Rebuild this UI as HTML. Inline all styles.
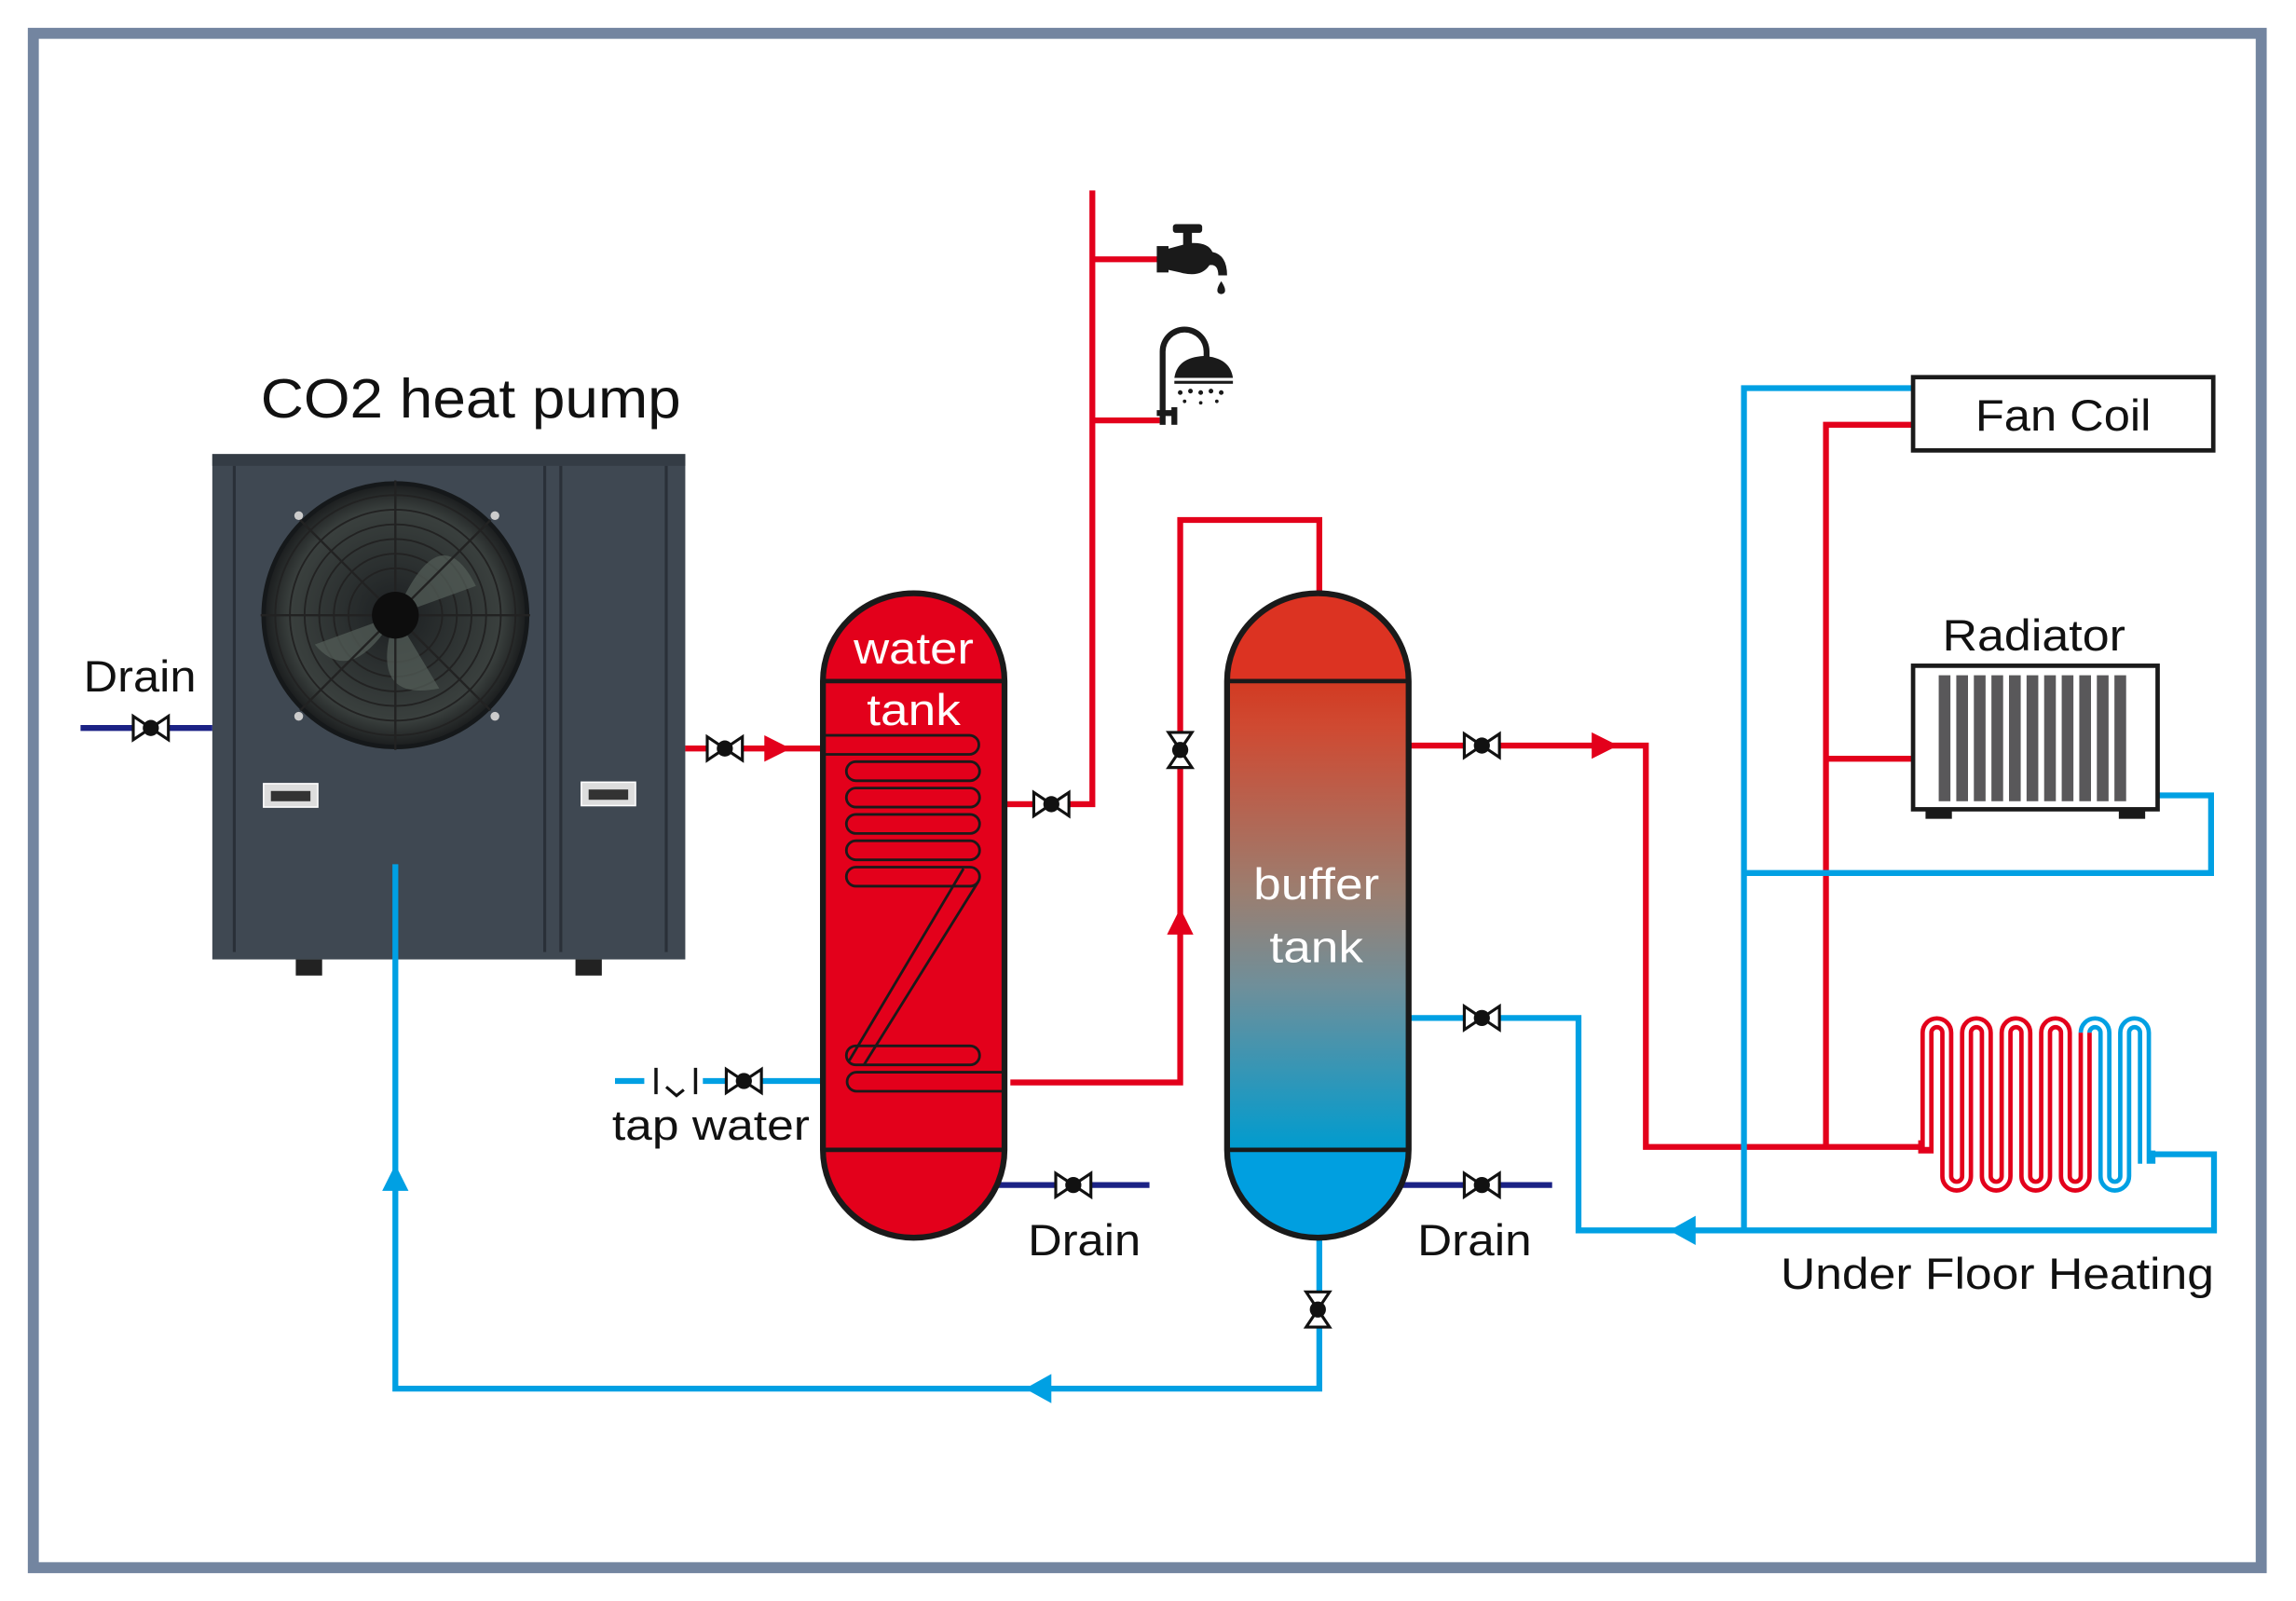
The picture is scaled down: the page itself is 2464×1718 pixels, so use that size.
<!DOCTYPE html>
<html><head><meta charset="utf-8"><style>
html,body{margin:0;padding:0;background:#fff;}
svg{display:block;}
text{font-family:"Liberation Sans",sans-serif;}
</style></head><body>
<svg width="2464" height="1718" viewBox="0 0 1568 1093" preserveAspectRatio="none" xmlns="http://www.w3.org/2000/svg">
<defs>
<g id="vh"><path d="M-12,-8 L-12,8 L0,0 Z M12,-8 L12,8 L0,0 Z" fill="#fff" stroke="#111" stroke-width="2"/><circle r="5.5" fill="#111"/></g>
<g id="vv"><path d="M-8,-12 L8,-12 L0,0 Z M-8,12 L8,12 L0,0 Z" fill="#fff" stroke="#111" stroke-width="2"/><circle r="5.5" fill="#111"/></g>
<linearGradient id="bg" x1="0" y1="0" x2="0" y2="1">
<stop offset="0" stop-color="#d23a22"/><stop offset="0.1" stop-color="#cf4a32"/><stop offset="0.45" stop-color="#9b7e70"/><stop offset="0.65" stop-color="#6f8f9a"/><stop offset="1" stop-color="#009ccf"/></linearGradient>
<radialGradient id="fan" cx="0.5" cy="0.5" r="0.5"><stop offset="0" stop-color="#1c1f21"/><stop offset="0.8" stop-color="#3a403e"/><stop offset="1" stop-color="#1a1c1d"/></radialGradient>
</defs>
<rect x="22.75" y="22.75" width="1521.5" height="1047.5" fill="#fff" stroke="#7385a0" stroke-width="7.5"/>

<!-- heat pump -->
<text x="178" y="285" font-size="38" fill="#111" textLength="287" lengthAdjust="spacingAndGlyphs">CO2 heat pump</text>
<rect x="145" y="310" width="323" height="345" fill="#3f4852"/>
<rect x="145" y="310" width="323" height="8" fill="#343c45"/>
<line x1="160" y1="318" x2="160" y2="650" stroke="#2a3038" stroke-width="2"/>
<line x1="372" y1="318" x2="372" y2="650" stroke="#2a3038" stroke-width="2"/>
<line x1="383" y1="318" x2="383" y2="650" stroke="#2a3038" stroke-width="2"/>
<line x1="455" y1="318" x2="455" y2="650" stroke="#2a3038" stroke-width="2"/>
<circle cx="270" cy="420" r="90" fill="url(#fan)" stroke="#15181a" stroke-width="3"/>
<g fill="none" stroke="#222" stroke-width="1.2">
<circle cx="270" cy="420" r="82"/><circle cx="270" cy="420" r="72"/><circle cx="270" cy="420" r="62"/><circle cx="270" cy="420" r="52"/><circle cx="270" cy="420" r="42"/><circle cx="270" cy="420" r="32"/>
</g>
<path d="M270,420 Q300,350 325,400 Z M270,420 Q240,470 215,440 Z M270,420 Q250,480 300,470 Z" fill="#55605a" opacity="0.7"/>
<line x1="205" y1="355" x2="335" y2="485" stroke="#222" stroke-width="1.5"/>
<line x1="335" y1="355" x2="205" y2="485" stroke="#222" stroke-width="1.5"/>
<line x1="178" y1="420" x2="362" y2="420" stroke="#222" stroke-width="1.5"/>
<line x1="270" y1="328" x2="270" y2="512" stroke="#222" stroke-width="1.5"/>
<circle cx="270" cy="420" r="16" fill="#0d0d0d"/>
<circle cx="204" cy="352" r="3" fill="#ccc"/><circle cx="338" cy="352" r="3" fill="#ccc"/>
<circle cx="204" cy="489" r="3" fill="#ccc"/><circle cx="338" cy="489" r="3" fill="#ccc"/>
<rect x="180" y="535" width="37" height="16" fill="#ddd" stroke="#fff" stroke-width="1"/><rect x="185" y="540" width="27" height="7" fill="#333"/>
<rect x="397" y="534" width="37" height="16" fill="#ddd" stroke="#fff" stroke-width="1"/><rect x="402" y="539" width="27" height="7" fill="#333"/>
<rect x="202" y="655" width="18" height="11" fill="#222"/><rect x="393" y="655" width="18" height="11" fill="#222"/>

<!-- left drain -->
<text x="57" y="472" font-size="30" fill="#111" textLength="77" lengthAdjust="spacingAndGlyphs">Drain</text>
<line x1="55" y1="497" x2="145" y2="497" stroke="#1b2285" stroke-width="4"/>
<use href="#vh" x="103" y="497"/>

<!-- pipes red -->
<g fill="none" stroke="#e3001b" stroke-width="4">
<line x1="468" y1="511" x2="562" y2="511"/>
<polyline points="690,739 806,739 806,355 901,355 901,405"/>
<polyline points="686,549 746,549 746,130"/>
<line x1="746" y1="177" x2="792" y2="177"/>
<line x1="746" y1="287" x2="792" y2="287"/>
<polyline points="962,509 1124,509 1124,783 1312,783"/>
<polyline points="1247,783 1247,290 1306,290"/>
<line x1="1247" y1="518" x2="1306" y2="518"/>
</g>
<path d="M522,502 L540,511 L522,520 Z" fill="#e3001b"/>
<path d="M1087,500 L1105,509 L1087,518 Z" fill="#e3001b"/>
<path d="M797,638 L806,620 L815,638 Z" fill="#e3001b"/>
<use href="#vh" x="495" y="511"/>
<use href="#vh" x="718" y="549"/>
<use href="#vv" x="806" y="512"/>
<use href="#vh" x="1012" y="509"/>

<!-- pipes blue -->
<g fill="none" stroke="#00a0e3" stroke-width="4">
<line x1="420" y1="738" x2="562" y2="738"/>
<polyline points="962,695 1078,695 1078,840 1512,840 1512,788 1470,788"/>
<polyline points="1191,840 1191,265 1306,265"/>
<polyline points="1191,596 1510,596 1510,543 1474,543"/>
<polyline points="901,845 901,948 270,948 270,590"/>
</g>
<path d="M1158,830 L1140,840 L1158,850 Z" fill="#00a0e3"/>
<path d="M718,938 L700,948 L718,958 Z" fill="#00a0e3"/>
<path d="M261,813 L270,795 L279,813 Z" fill="#00a0e3"/>
<use href="#vh" x="1012" y="695"/>
<use href="#vv" x="900" y="894"/>
<!-- tap water -->
<rect x="440" y="734" width="40" height="8" fill="#fff"/>
<line x1="448" y1="729" x2="448" y2="747" stroke="#111" stroke-width="2.2"/>
<line x1="475" y1="729" x2="475" y2="747" stroke="#111" stroke-width="2.2"/>
<polyline points="455,742 462,748 467,744" fill="none" stroke="#111" stroke-width="2"/>
<use href="#vh" x="508" y="738"/>
<text x="418" y="778" font-size="29" fill="#111" textLength="135" lengthAdjust="spacingAndGlyphs">tap water</text>

<!-- drains navy -->
<line x1="680" y1="809" x2="785" y2="809" stroke="#1b2285" stroke-width="4"/>
<use href="#vh" x="733" y="809"/>
<text x="702" y="857" font-size="30" fill="#111" textLength="77" lengthAdjust="spacingAndGlyphs">Drain</text>
<line x1="955" y1="809" x2="1060" y2="809" stroke="#1b2285" stroke-width="4"/>
<use href="#vh" x="1012" y="809"/>
<text x="968" y="857" font-size="30" fill="#111" textLength="78" lengthAdjust="spacingAndGlyphs">Drain</text>

<!-- water tank -->
<path d="M562,465 A62,60 0 0 1 686,465 L686,785 A62,60 0 0 1 562,785 Z" fill="#e3001b" stroke="#1a1a1a" stroke-width="4"/>
<line x1="562" y1="465" x2="686" y2="465" stroke="#1a1a1a" stroke-width="3"/>
<line x1="562" y1="785" x2="686" y2="785" stroke="#1a1a1a" stroke-width="3"/>
<g fill="none" stroke="#1a1a1a" stroke-width="1.8">
<path d="M563,502 L662,502 A6.5,6.5 0 0 1 662,515 L563,515"/>
<rect x="578" y="520" width="91" height="13" rx="6.5"/>
<rect x="578" y="538" width="91" height="13" rx="6.5"/>
<rect x="578" y="556" width="91" height="13" rx="6.5"/>
<rect x="578" y="574" width="91" height="13" rx="6.5"/>
<rect x="578" y="592" width="91" height="13" rx="6.5"/>
<rect x="578" y="714" width="91" height="13" rx="6.5"/>
<path d="M686,732 L585,732 A6.5,6.5 0 0 0 585,745 L686,745"/>
<line x1="658" y1="593" x2="580" y2="724"/>
<line x1="668" y1="602" x2="590" y2="727"/>
</g>
<text x="624" y="453" font-size="30" fill="#fff" text-anchor="middle" textLength="82" lengthAdjust="spacingAndGlyphs">water</text>
<text x="624" y="495" font-size="30" fill="#fff" text-anchor="middle" textLength="64" lengthAdjust="spacingAndGlyphs">tank</text>

<!-- buffer tank -->
<path d="M838,465 A62,60 0 0 1 962,465 Z" fill="#dc3322"/>
<rect x="838" y="465" width="124" height="320" fill="url(#bg)"/>
<path d="M838,785 A62,60 0 0 0 962,785 Z" fill="#009fe0"/>
<path d="M838,465 A62,60 0 0 1 962,465 L962,785 A62,60 0 0 1 838,785 Z" fill="none" stroke="#1a1a1a" stroke-width="4"/>
<line x1="838" y1="465" x2="962" y2="465" stroke="#1a1a1a" stroke-width="3"/>
<line x1="838" y1="785" x2="962" y2="785" stroke="#1a1a1a" stroke-width="3"/>
<text x="899" y="614" font-size="30" fill="#fff" text-anchor="middle" textLength="86" lengthAdjust="spacingAndGlyphs">buffer</text>
<text x="899" y="657" font-size="30" fill="#fff" text-anchor="middle" textLength="64" lengthAdjust="spacingAndGlyphs">tank</text>

<!-- faucet -->
<g fill="#1a1a1a">
<rect x="790" y="168" width="8" height="18"/>
<path d="M797,170 L812,166 Q825,165 828,172 Q838,174 838,188 L832,188 Q832,180 826,181 Q820,190 806,186 L797,184 Z"/>
<rect x="808" y="157" width="6" height="10"/><rect x="801" y="153" width="20" height="6" rx="2"/>
<path d="M834,192 Q830,198 832,200 A3,3 0 0 0 836,200 Q838,198 834,192 Z"/>
<path d="M792,290 L792,240 A17,17 0 0 1 826,240 L826,244 L822,244 L822,240 A13,13 0 0 0 796,240 L796,290 Z"/>
<rect x="790" y="280" width="12" height="4"/><rect x="800" y="278" width="4" height="12"/>
<path d="M802,258 Q804,244 822,243 Q840,244 842,258 Z"/>
<rect x="802" y="260" width="40" height="2"/>
<circle cx="806" cy="268" r="1.6"/><circle cx="813" cy="267" r="1.6"/><circle cx="820" cy="268" r="1.6"/><circle cx="827" cy="267" r="1.6"/><circle cx="834" cy="268" r="1.6"/>
<circle cx="809" cy="274" r="1.2"/><circle cx="820" cy="275" r="1.2"/><circle cx="831" cy="274" r="1.2"/>
</g>

<!-- fan coil -->
<rect x="1306.5" y="257.5" width="205" height="50" fill="#fff" stroke="#1a1a1a" stroke-width="3"/>
<text x="1409" y="294" font-size="30" fill="#111" text-anchor="middle" textLength="120" lengthAdjust="spacingAndGlyphs">Fan Coil</text>
<!-- radiator -->
<text x="1389" y="444" font-size="30" fill="#111" text-anchor="middle" textLength="125" lengthAdjust="spacingAndGlyphs">Radiator</text>
<rect x="1306.5" y="454.5" width="167" height="98" fill="#fff" stroke="#1a1a1a" stroke-width="3"/>
<g fill="#59585a">
<rect x="1324" y="461" width="8" height="86"/><rect x="1336" y="461" width="8" height="86"/><rect x="1348" y="461" width="8" height="86"/><rect x="1360" y="461" width="8" height="86"/><rect x="1372" y="461" width="8" height="86"/><rect x="1384" y="461" width="8" height="86"/><rect x="1396" y="461" width="8" height="86"/><rect x="1408" y="461" width="8" height="86"/><rect x="1420" y="461" width="8" height="86"/><rect x="1432" y="461" width="8" height="86"/><rect x="1444" y="461" width="8" height="86"/>
</g>
<rect x="1315" y="553" width="18" height="6" fill="#1a1a1a"/><rect x="1447" y="553" width="18" height="6" fill="#1a1a1a"/>

<!-- under floor heating coil -->
<path d="M1310,783 L1316,783 L1316,705 A6.7,6.7 0 0 1 1329.5,705 L1329.5,803 A6.7,6.7 0 0 0 1343,803 L1343,705 A6.7,6.7 0 0 1 1356.5,705 L1356.5,803 A6.7,6.7 0 0 0 1370,803 L1370,705 A6.7,6.7 0 0 1 1383.5,705 L1383.5,803 A6.7,6.7 0 0 0 1397,803 L1397,705 A6.7,6.7 0 0 1 1410.5,705 L1410.5,803 A6.7,6.7 0 0 0 1424,803 L1424,705" fill="none" stroke="#e3001b" stroke-width="9"/>
<path d="M1424,705 A6.7,6.7 0 0 1 1437.5,705 L1437.5,803 A6.7,6.7 0 0 0 1451,803 L1451,705 A6.7,6.7 0 0 1 1464.5,705 L1464.5,790 L1472,790" fill="none" stroke="#00a0e3" stroke-width="9"/>
<path d="M1316,783 L1316,705 A6.7,6.7 0 0 1 1329.5,705 L1329.5,803 A6.7,6.7 0 0 0 1343,803 L1343,705 A6.7,6.7 0 0 1 1356.5,705 L1356.5,803 A6.7,6.7 0 0 0 1370,803 L1370,705 A6.7,6.7 0 0 1 1383.5,705 L1383.5,803 A6.7,6.7 0 0 0 1397,803 L1397,705 A6.7,6.7 0 0 1 1410.5,705 L1410.5,803 A6.7,6.7 0 0 0 1424,803 L1424,705 A6.7,6.7 0 0 1 1437.5,705 L1437.5,803 A6.7,6.7 0 0 0 1451,803 L1451,705 A6.7,6.7 0 0 1 1464.5,705 L1464.5,795" fill="none" stroke="#fff" stroke-width="3"/>
<text x="1216" y="880" font-size="30" fill="#111" textLength="296" lengthAdjust="spacingAndGlyphs">Under Floor Heating</text>
</svg>
</body></html>
